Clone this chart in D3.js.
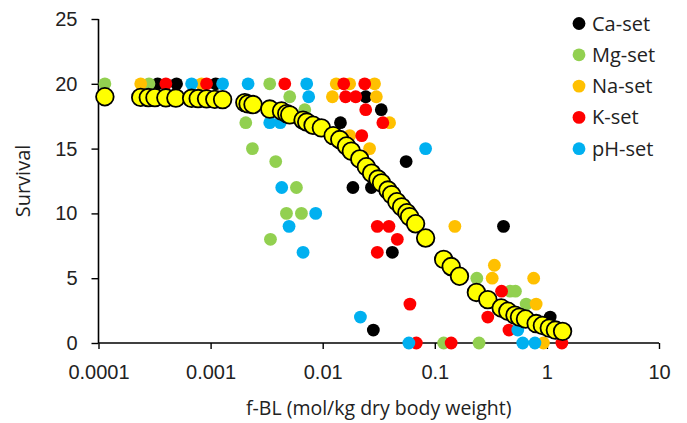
<!DOCTYPE html>
<html>
<head>
<meta charset="utf-8">
<script src="https://cdn.jsdelivr.net/npm/d3@7"></script>
<style>
  body { margin: 0; background: #fff; }
  svg { display: block; font-family: "Open Sans", "Liberation Sans", sans-serif; }
</style>
</head>
<body>
<div id="chart"></div>
<script>
// observed survival (of 20) against f-BL, per exposure set: [f-BL, survival]
const caSet = [
  [3.37e-4, 20], [4.97e-4, 20], [1.11e-3, 20], [2.42e-2, 19], [3.33e-2, 18],
  [1.44e-2, 17], [5.55e-2, 14], [1.86e-2, 12], [2.72e-2, 12], [0.41, 9],
  [4.18e-2, 7], [1.07, 2], [2.83e-2, 1]
];
const mgSet = [
  [1.14e-4, 20], [2.82e-4, 20], [3.37e-3, 20], [5.08e-3, 19], [6.92e-3, 18],
  [2.06e-3, 17], [2.36e-3, 15], [3.81e-3, 14], [5.83e-3, 12], [4.75e-3, 10],
  [6.46e-3, 10], [3.42e-3, 8], [0.237, 5], [0.47, 4], [0.524, 4],
  [0.653, 3], [0.12, 0], [0.248, 0]
];
const naSet = [
  [2.38e-4, 20], [8.3e-4, 20], [1.32e-2, 20], [1.74e-2, 20], [2.9e-2, 20],
  [1.22e-2, 19], [3.01e-2, 19], [3.95e-2, 17], [1.74e-2, 16], [2.62e-2, 15],
  [0.151, 9], [0.34, 6], [0.325, 5], [0.762, 5], [0.802, 3], [0.931, 0]
];
const kSet = [
  [3.99e-4, 20], [9.2e-4, 20], [4.59e-3, 20], [1.54e-2, 20], [2.37e-2, 20],
  [1.6e-2, 19], [1.97e-2, 19], [2.42e-2, 18], [3.44e-2, 17], [2.23e-2, 16],
  [3.07e-2, 9], [3.9e-2, 9], [4.63e-2, 8], [3.07e-2, 7], [0.394, 4],
  [6.0e-2, 3], [0.297, 2], [0.459, 1], [6.84e-2, 0], [0.14, 0], [1.36, 0]
];
const phSet = [
  [6.77e-4, 20], [1.28e-3, 20], [2.16e-3, 20], [7.2e-3, 20], [7.5e-3, 19],
  [3.37e-3, 17], [4.18e-3, 17], [8.28e-2, 15], [4.31e-3, 12], [8.66e-3, 10],
  [5.01e-3, 9], [6.68e-3, 7], [2.17e-2, 2], [0.55, 1], [5.87e-2, 0],
  [0.609, 0], [0.782, 0]
];

// model-predicted survival (yellow markers)
const fitted = [
  [1.14e-4, 19.0], [2.38e-4, 18.95], [2.78e-4, 18.94], [3.19e-4, 18.93], [3.99e-4, 18.92],
  [4.9e-4, 18.9], [6.77e-4, 18.88], [7.75e-4, 18.86], [9.2e-4, 18.84], [1.09e-3, 18.8],
  [1.28e-3, 18.78], [2.02e-3, 18.55], [2.16e-3, 18.45], [2.39e-3, 18.4], [3.37e-3, 18.05],
  [4.29e-3, 17.9], [4.78e-3, 17.7], [5.08e-3, 17.6], [6.68e-3, 17.2], [7.2e-3, 17.05],
  [8.2e-3, 16.8], [9.73e-3, 16.6], [1.24e-2, 16.0], [1.42e-2, 15.7], [1.63e-2, 15.2],
  [1.8e-2, 14.8], [2.14e-2, 14.2], [2.45e-2, 13.6], [2.73e-2, 13.1], [3.11e-2, 12.65],
  [3.35e-2, 12.35], [3.82e-2, 11.8], [4.12e-2, 11.45], [4.59e-2, 10.9], [5.06e-2, 10.5],
  [5.64e-2, 10.05], [5.96e-2, 9.75], [6.74e-2, 9.2], [8.28e-2, 8.1], [0.12, 6.45],
  [0.14, 5.9], [0.166, 5.15], [0.235, 3.9], [0.297, 3.35], [0.391, 2.7],
  [0.448, 2.45], [0.519, 2.15], [0.569, 2.0], [0.644, 1.85], [0.802, 1.5],
  [0.912, 1.35], [1.05, 1.15], [1.19, 1.0], [1.38, 0.9]
];

const seriesNames = ["Ca-set", "Mg-set", "Na-set", "K-set", "pH-set"];
const seriesData = [caSet, mgSet, naSet, kSet, phSet];
const seriesColors = ["#000000", "#92d050", "#ffc000", "#ff0000", "#00b0f0"];

const xTicks = [0.0001, 0.001, 0.01, 0.1, 1, 10];
const xTickLabels = ["0.0001", "0.001", "0.01", "0.1", "1", "10"];
const yTicks = [0, 5, 10, 15, 20, 25];

const width = 687, height = 423;
const margin = {top: 19, right: 28, bottom: 80, left: 98.5};

const x = d3.scaleLog()
  .domain([1e-4, 10])
  .range([margin.left, width - margin.right]);

const y = d3.scaleLinear()
  .domain([0, 25])
  .range([height - margin.bottom, margin.top]);

const svg = d3.select("#chart").append("svg")
  .attr("width", width)
  .attr("height", height);

const xAxis = d3.axisBottom(x)
  .tickValues(xTicks)
  .tickFormat((d, i) => xTickLabels[i])
  .tickSize(6)
  .tickPadding(16);

const yAxis = d3.axisLeft(y)
  .tickValues(yTicks)
  .tickSize(7)
  .tickPadding(14);

const gx = svg.append("g")
  .attr("transform", "translate(0," + y(0) + ")")
  .call(xAxis);

const gy = svg.append("g")
  .attr("transform", "translate(" + margin.left + ",0)")
  .call(yAxis);

[gx, gy].forEach(g => {
  g.select(".domain").attr("stroke", "#000").attr("stroke-width", 1.6);
  g.selectAll(".tick line").attr("stroke", "#000").attr("stroke-width", 1.4);
  g.selectAll(".tick text")
    .attr("fill", "#222")
    .style("font-size", "20px");
});
// plain axis ends, no outer ticks
gx.select(".domain").attr("d", "M" + x(1e-4) + ",0H" + x(10));
gy.select(".domain").attr("d", "M0," + y(0) + "V" + y(25));

// scatter sets, in legend order
seriesData.forEach((data, i) => {
  svg.append("g")
    .selectAll("circle")
    .data(data)
    .join("circle")
    .attr("cx", d => x(d[0]))
    .attr("cy", d => y(d[1]))
    .attr("r", 6.4)
    .attr("fill", seriesColors[i]);
});

// model markers on top
svg.append("g")
  .selectAll("circle")
  .data(fitted)
  .join("circle")
  .attr("cx", d => x(d[0]))
  .attr("cy", d => y(d[1]))
  .attr("r", 8.8)
  .attr("fill", "#ffff00")
  .attr("stroke", "#000")
  .attr("stroke-width", 1.8);

// legend
const legend = svg.append("g")
  .selectAll("g")
  .data(seriesNames)
  .join("g")
  .attr("transform", (d, i) => "translate(579," + (23.5 + i * 31.3) + ")");

legend.append("circle")
  .attr("r", 6.4)
  .attr("fill", (d, i) => seriesColors[i]);

legend.append("text")
  .attr("x", 13)
  .attr("dy", "0.35em")
  .attr("fill", "#222")
  .style("font-size", "20px")
  .text(d => d);

// axis titles
svg.append("text")
  .attr("x", (x(1e-4) + x(10)) / 2)
  .attr("y", 415)
  .attr("text-anchor", "middle")
  .attr("fill", "#222")
  .style("font-size", "19.5px")
  .text("f-BL (mol/kg dry body weight)");

svg.append("text")
  .attr("transform", "translate(30," + y(12.5) + ") rotate(-90)")
  .attr("text-anchor", "middle")
  .attr("fill", "#222")
  .style("font-size", "20px")
  .text("Survival");
</script>
</body>
</html>
